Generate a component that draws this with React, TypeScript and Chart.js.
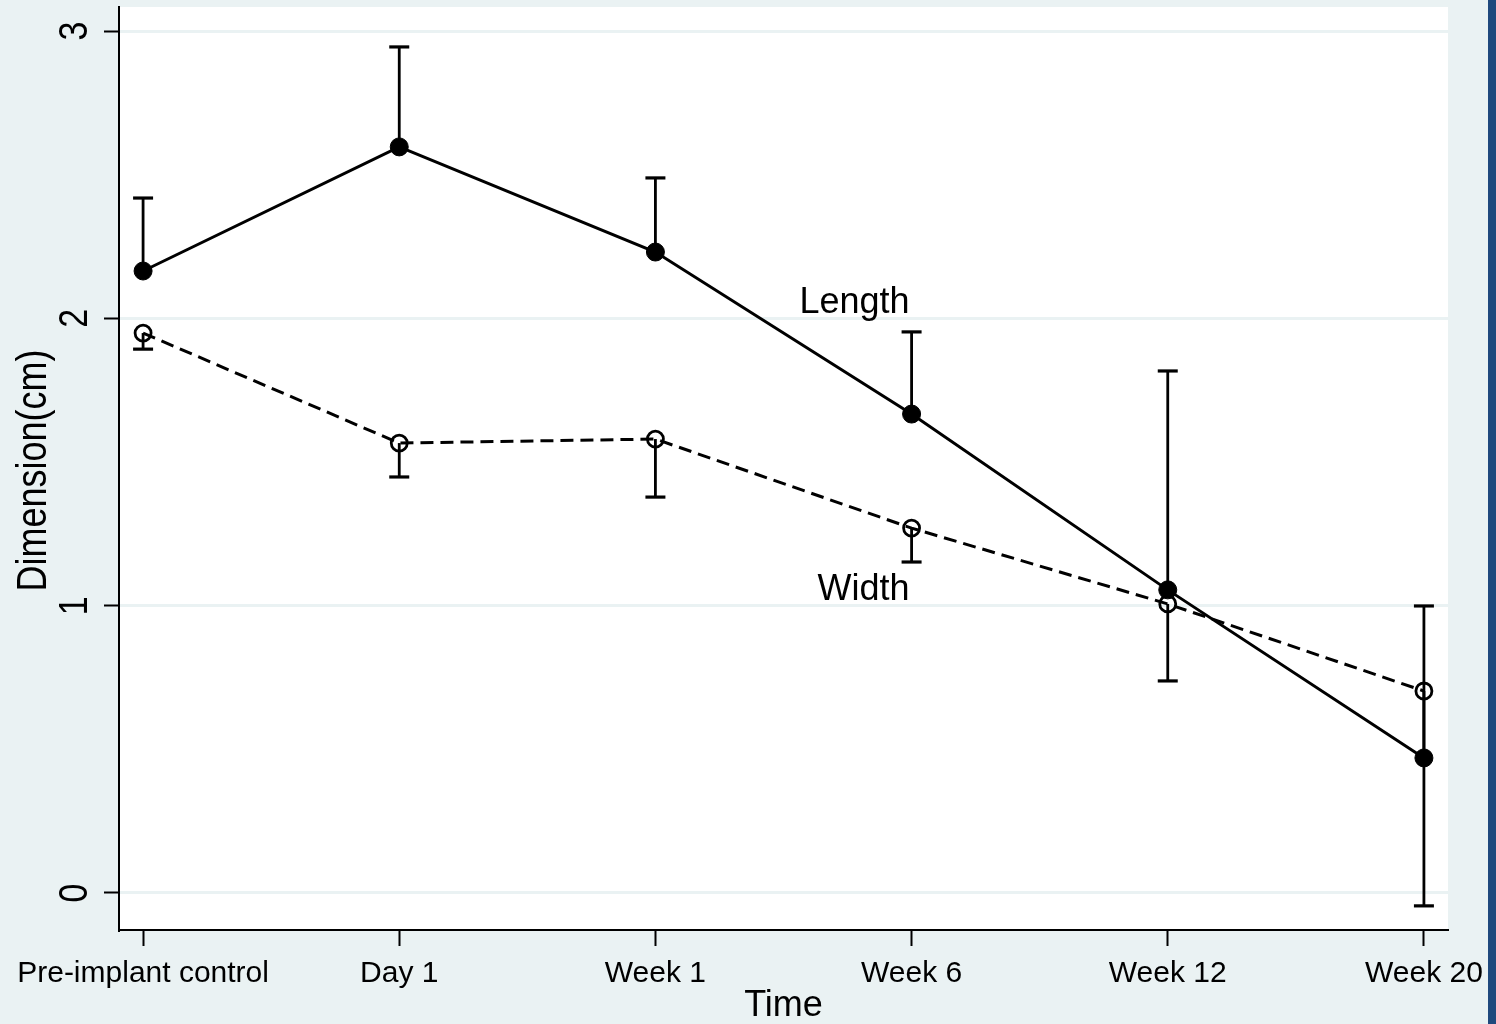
import React, { useEffect, useRef } from "react";
import { Chart, registerables } from "chart.js";

Chart.register(...registerables);

// ---- data ----
const categories = ["Pre-implant control", "Day 1", "Week 1", "Week 6", "Week 12", "Week 20"];
const lengthMeans = [2.165, 2.597, 2.231, 1.667, 1.055, 0.47];
const lengthUpper = [2.419, 2.945, 2.489, 1.953, 1.817, 0.999];
const widthMeans = [1.949, 1.566, 1.58, 1.27, 1.006, 0.703];
const widthLower = [1.893, 1.448, 1.378, 1.152, 0.738, -0.045];
const yTicks = [0, 1, 2, 3];
const labelTexts = ["Length", "Width"];
const labelX = [3, 3];
const labelY = [2.02, 1.02];
const xTitle = "Time";
const yTitle = "Dimension(cm)";

const FONT = '"Liberation Sans", Arial, Helvetica, sans-serif';
const BG = "#EAF2F3";

const decor = {
  id: "decor",
  beforeDraw(chart: any) {
    const { ctx, chartArea: a, width, height } = chart;
    ctx.save();
    ctx.fillStyle = BG;
    ctx.fillRect(0, 0, width, height);
    ctx.fillStyle = "#ffffff";
    ctx.fillRect(a.left, a.top, a.right - a.left, a.bottom - a.top);
    ctx.restore();
  },
  afterDatasetsDraw(chart: any) {
    const { ctx, chartArea: a } = chart;
    const xs = chart.scales.x;
    const ys = chart.scales.y;
    ctx.save();
    ctx.strokeStyle = "#000";
    ctx.lineCap = "butt";
    const bar = (i: number, from: number, to: number) => {
      const px = xs.getPixelForValue(i);
      const p1 = ys.getPixelForValue(from);
      const p2 = ys.getPixelForValue(to);
      ctx.lineWidth = 2.8;
      ctx.beginPath();
      ctx.moveTo(px, p1);
      ctx.lineTo(px, p2);
      ctx.stroke();
      ctx.lineWidth = 3.2;
      ctx.beginPath();
      ctx.moveTo(px - 10, p2);
      ctx.lineTo(px + 10, p2);
      ctx.stroke();
    };
    categories.forEach((_, i) => {
      bar(i, lengthMeans[i], lengthUpper[i]);
      bar(i, widthMeans[i], widthLower[i]);
    });

    // series labels
    ctx.fillStyle = "#000";
    ctx.font = `36px ${FONT}`;
    ctx.textAlign = "right";
    ctx.textBaseline = "alphabetic";
    labelTexts.forEach((t, i) => {
      ctx.fillText(t, xs.getPixelForValue(labelX[i]) - 2, ys.getPixelForValue(labelY[i]));
    });

    // y tick labels (rotated)
    const stretch = 1.17;
    ctx.font = `34px ${FONT}`;
    ctx.textAlign = "center";
    yTicks.forEach((v) => {
      ctx.save();
      ctx.translate(a.left - 32, ys.getPixelForValue(v));
      ctx.rotate(-Math.PI / 2);
      ctx.scale(1, stretch);
      ctx.fillText(String(v), 0, 0);
      ctx.restore();
    });

    // y title
    ctx.save();
    ctx.font = `36px ${FONT}`;
    ctx.translate(46, (a.top + a.bottom) / 2 + 2);
    ctx.rotate(-Math.PI / 2);
    ctx.scale(1, stretch);
    ctx.fillText(yTitle, 0, 0);
    ctx.restore();

    // x title
    ctx.font = `36px ${FONT}`;
    ctx.textAlign = "center";
    ctx.fillText(xTitle, (a.left + a.right) / 2, a.bottom + 86);
    ctx.restore();
  },
};

export default function App() {
  const ref = useRef<HTMLCanvasElement | null>(null);
  useEffect(() => {
    if (!ref.current) return;
    const idx = categories.map((_, i) => i);
    const chart = new Chart(ref.current, {
      type: "line",
      data: {
        datasets: [
          {
            label: "Length",
            data: idx.map((i) => ({ x: i, y: lengthMeans[i] })),
            borderColor: "#000",
            borderWidth: 3,
            backgroundColor: "#000",
            pointRadius: 9,
            pointBorderWidth: 1,
            pointBackgroundColor: "#000",
            pointBorderColor: "#000",
            tension: 0,
          },
          {
            label: "Width",
            data: idx.map((i) => ({ x: i, y: widthMeans[i] })),
            borderColor: "#000",
            borderWidth: 3,
            borderDash: [13, 7],
            backgroundColor: "rgba(0,0,0,0)",
            pointRadius: 8,
            pointBorderWidth: 2.8,
            pointBackgroundColor: "rgba(0,0,0,0)",
            pointBorderColor: "#000",
            tension: 0,
          },
        ],
      },
      options: {
        responsive: false,
        animation: false,
        events: [],
        layout: { autoPadding: false, padding: { top: 7, right: 40, left: 0, bottom: 0 } },
        plugins: {
          legend: { display: false },
          tooltip: { enabled: false },
          title: { display: false },
        },
        scales: {
          x: {
            type: "linear",
            min: -0.094,
            max: 5.094,
            afterBuildTicks: (s: any) => {
              s.ticks = categories.map((_, i) => ({ value: i }));
            },
            afterFit: (s: any) => {
              s.height = 94;
              s.paddingLeft = 0;
              s.paddingRight = 0;
              s.paddingTop = 0;
              s.paddingBottom = 0;
            },
            ticks: {
              autoSkip: false,
              maxRotation: 0,
              minRotation: 0,
              padding: 10,
              color: "#000",
              font: { family: FONT, size: 30 },
              callback: (v: any) => categories[Number(v)] ?? "",
            },
            grid: {
              drawOnChartArea: false,
              drawTicks: true,
              tickLength: 16,
              tickColor: "#000",
              tickWidth: 2,
            },
            border: { display: true, color: "#000", width: 2 },
          },
          y: {
            type: "linear",
            min: -0.129,
            max: 3.084,
            afterBuildTicks: (s: any) => {
              s.ticks = yTicks.map((v) => ({ value: v }));
            },
            afterFit: (s: any) => {
              s.width = 119;
              s.paddingLeft = 0;
              s.paddingRight = 0;
              s.paddingTop = 0;
              s.paddingBottom = 0;
            },
            ticks: { display: false },
            grid: {
              color: BG,
              lineWidth: 3,
              drawTicks: true,
              tickLength: 15,
              tickColor: "#000",
              tickWidth: 2,
            },
            border: { display: true, color: "#000", width: 2 },
          },
        },
      },
      plugins: [decor],
    });
    return () => chart.destroy();
  }, []);

  return (
    <div style={{ position: "fixed", left: 0, top: 0, width: 1496, height: 1024, display: "flex", background: BG }}>
      <canvas ref={ref} width={1488} height={1024} style={{ display: "block", width: 1488, height: 1024 }} />
      <div style={{ width: 8, height: 1024, background: "#1F497D" }} />
    </div>
  );
}
